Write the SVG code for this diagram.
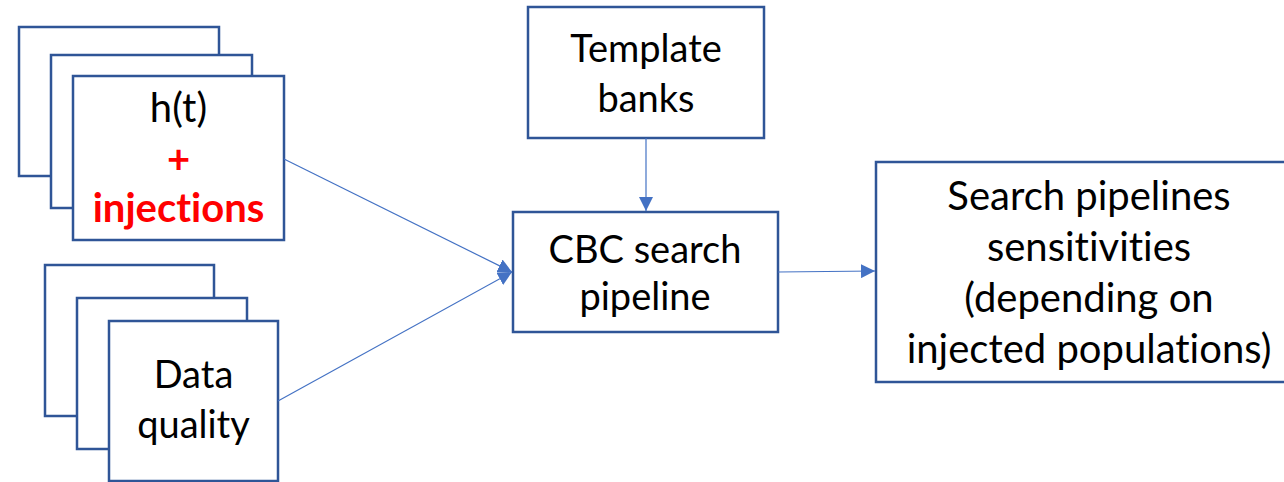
<svg xmlns="http://www.w3.org/2000/svg" width="1284" height="482" viewBox="0 0 1284 482">
  <style>
    .box { fill: #FFFFFF; stroke: #2F5597; stroke-width: 2.5; }
    .lbl { font-family: Lato, "Liberation Sans", sans-serif; font-size: 38px; fill: #000000; text-anchor: middle; font-variant-ligatures: none; font-feature-settings: "liga" 0, "clig" 0; }
    .big { font-size: 40px; }
    .red { fill: #FF0000; font-weight: bold; }
    .conn { stroke: #4472C4; stroke-width: 1.2; fill: none; marker-end: url(#arrow); }
  </style>
  <defs>
    <marker id="arrow" markerUnits="userSpaceOnUse" markerWidth="14" markerHeight="14" viewBox="0 0 14 14" refX="14" refY="7" orient="auto">
      <path d="M0,0 L14,7 L0,14 z" fill="#4472C4"/>
    </marker>
  </defs>
  <rect width="1284" height="482" fill="#FFFFFF"/>

  <g id="node-ht">
    <rect class="box" x="19" y="27" width="200" height="149"/>
    <rect class="box" x="51" y="55" width="201" height="153"/>
    <rect class="box" x="73" y="76" width="211" height="164"/>
    <text class="lbl big" x="178.5" y="122">h(t)</text>
    <text class="lbl big red" x="178.5" y="173">+</text>
    <text class="lbl big red" x="178.5" y="222">injections</text>
  </g>

  <g id="node-dq">
    <rect class="box" x="45" y="265" width="169" height="151"/>
    <rect class="box" x="77" y="298" width="170" height="151"/>
    <rect class="box" x="109" y="321" width="169" height="160"/>
    <text class="lbl" x="193.5" y="388">Data</text>
    <text class="lbl" x="193.5" y="438">quality</text>
  </g>

  <g id="node-tb">
    <rect class="box" x="528" y="7" width="236" height="131"/>
    <text class="lbl" x="646" y="62">Template</text>
    <text class="lbl" x="646" y="112">banks</text>
  </g>

  <g id="node-cbc">
    <rect class="box" x="513" y="212" width="265" height="120"/>
    <text class="lbl" x="645" y="263">CBC search</text>
    <text class="lbl" x="645" y="310">pipeline</text>
  </g>

  <g id="node-out">
    <rect class="box" x="876" y="162" width="420" height="220"/>
    <text class="lbl big" x="1089" y="210">Search pipelines</text>
    <text class="lbl big" x="1089" y="261">sensitivities</text>
    <text class="lbl big" x="1089" y="312">(depending on</text>
    <text class="lbl big" x="1089" y="363">injected populations)</text>
  </g>

  <g id="connectors">
    <line class="conn" x1="646" y1="138" x2="646" y2="211"/>
    <line class="conn" x1="284" y1="159" x2="512" y2="272"/>
    <line class="conn" x1="278" y1="401" x2="512" y2="272"/>
    <line class="conn" x1="778" y1="272" x2="875" y2="271"/>
  </g>
</svg>
